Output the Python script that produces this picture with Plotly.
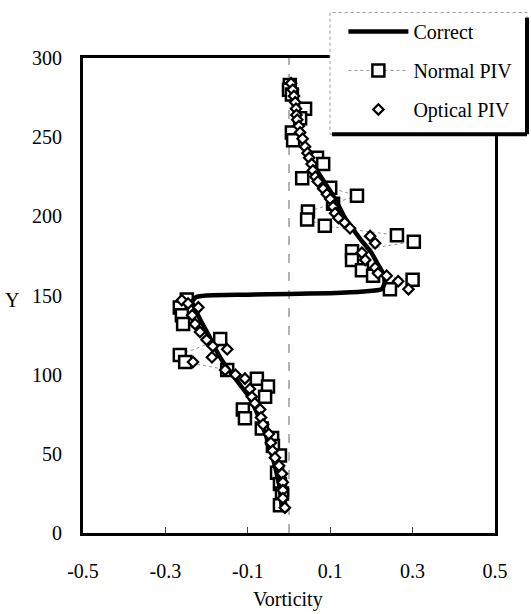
import plotly.graph_objects as go

# Exact (analytic) vorticity profile
correct_x = [0.002, 0.012, 0.028, 0.044, 0.070, 0.100, 0.120, 0.136, 0.155, 0.175,
             0.200, 0.215, 0.228, 0.232, 0.225, 0.180, 0.100, 0.000, -0.100, -0.200,
             -0.225, -0.235, -0.225, -0.214, -0.195, -0.180, -0.160, -0.143, -0.120,
             -0.100, -0.085, -0.070, -0.055, -0.042, -0.032, -0.023, -0.018]
correct_y = [285, 270, 255, 241, 228, 216, 207, 199, 192, 185,
             177, 170, 164, 158, 154, 152.5, 151.5, 151, 150.5, 150,
             149, 146, 140, 134, 125, 117, 108, 102, 94,
             87, 80, 71, 61, 50, 40, 29, 17]

# Standard cross-correlation PIV (upper branch, then lower branch)
normal_x_upper = [0.002, 0.000, 0.007, 0.039, 0.027, 0.007, 0.010, 0.068, 0.083, 0.032,
                  0.100, 0.165, 0.107, 0.046, 0.044, 0.087, 0.262, 0.303, 0.153, 0.153,
                  0.177, 0.204, 0.300, 0.245]
normal_y_upper = [283, 280, 277, 268, 262, 253, 248, 237, 233, 224,
                  218, 213, 208, 203, 198, 194, 188, 184, 178, 172.5,
                  166, 162.5, 160, 154]
normal_x_lower = [-0.248, -0.265, -0.260, -0.257, -0.167, -0.265, -0.252, -0.150, -0.078,
                  -0.051, -0.058, -0.112, -0.107, -0.066, -0.041, -0.039, -0.022, -0.029,
                  -0.022, -0.017, -0.022]
normal_y_lower = [147.5, 142.5, 137.5, 132, 122.5, 112.5, 108, 103, 97.5,
                  92.5, 86, 78, 72.5, 66, 60, 55, 49, 38,
                  31, 25, 17.5]

# Optical-flow PIV
optical_x = [0.005, 0.009, 0.012, 0.015, 0.017, 0.018, 0.020, 0.024, 0.027, 0.033,
             0.039, 0.045, 0.049, 0.055, 0.058, 0.064, 0.070, 0.083, 0.092, 0.100,
             0.107, 0.112, 0.120, 0.135, 0.148, 0.197, 0.209, 0.177, 0.185, 0.209,
             0.216, 0.237, 0.265, 0.290,
             -0.260, -0.245, -0.220, -0.235, -0.228, -0.216, -0.200, -0.185, -0.150,
             -0.187, -0.233, -0.155, -0.130, -0.107, -0.095, -0.090, -0.083, -0.070,
             -0.068, -0.063, -0.049, -0.044, -0.040, -0.034, -0.024, -0.017, -0.015,
             -0.015, -0.015, -0.010]
optical_y = [284, 280, 276, 272, 268, 264, 261, 257, 253, 249,
             244, 240, 237, 233, 229, 225, 222, 217.5, 214, 211,
             206, 202, 199, 196, 192.5, 187.5, 183, 177, 172.5, 167.5,
             164, 162.5, 159, 154,
             147, 145, 142.5, 137.5, 132, 127, 122, 118, 116,
             111, 108, 103, 100, 97.5, 91, 86, 82, 78,
             73, 68.5, 62.5, 57, 52, 47.5, 42.5, 37.5, 32,
             27, 22, 16]

x_ticks = [-0.5, -0.3, -0.1, 0.1, 0.3, 0.5]
x_tick_text = ["-0.5", "-0.3", "-0.1", "0.1", "0.3", "0.5"]
y_ticks = [0, 50, 100, 150, 200, 250, 300]

FONT = "Liberation Serif"

normal_x = normal_x_upper + [None] + normal_x_lower
normal_y = normal_y_upper + [None] + normal_y_lower

fig = go.Figure()

fig.add_trace(go.Scatter(
    x=normal_x, y=normal_y, name="Normal PIV", mode="lines+markers",
    legendgroup="b", legendrank=2,
    line=dict(color="#7a7a7a", width=0.8, dash="dot"),
    marker=dict(symbol="square", size=12, color="white",
                line=dict(color="black", width=2.5)),
))
fig.add_trace(go.Scatter(
    x=correct_x, y=correct_y, name="Correct", mode="lines",
    legendgroup="a", legendrank=1,
    line=dict(color="black", width=4.5, shape="spline", smoothing=0.6),
))
fig.add_trace(go.Scatter(
    x=optical_x, y=optical_y, name="Optical PIV", mode="markers",
    legendgroup="c", legendrank=3,
    marker=dict(symbol="diamond", size=8, color="white",
                line=dict(color="black", width=2.2)),
))

# Zero-vorticity reference line
fig.add_shape(type="line", xref="x", yref="paper", x0=0, x1=0, y0=0, y1=1,
              line=dict(color="#666666", width=1, dash="dash"), layer="below")

# Legend frame with drop shadow
lx0, lx1, ly0, ly1 = 0.5995, 1.0777, 0.8396, 1.0958
fig.add_shape(type="rect", xref="paper", yref="paper", x0=lx0, x1=lx1, y0=ly0, y1=ly1,
              fillcolor="white", line=dict(color="#999999", width=1, dash="dot"),
              layer="above")
fig.add_shape(type="line", xref="paper", yref="paper", x0=lx1, x1=lx1, y0=ly0, y1=1.085,
              line=dict(color="black", width=4), layer="above")
fig.add_shape(type="line", xref="paper", yref="paper", x0=lx0 + 0.005, x1=lx1, y0=ly0, y1=ly0,
              line=dict(color="black", width=4), layer="above")

fig.update_layout(
    width=531, height=614,
    margin=dict(l=83, r=36, t=53, b=81),
    paper_bgcolor="white", plot_bgcolor="white",
    font=dict(family=FONT, size=20, color="black"),
    showlegend=True,
    legend=dict(x=0.632, y=1.097, xanchor="left", yanchor="top",
                bgcolor="rgba(0,0,0,0)", borderwidth=0,
                font=dict(family=FONT, size=20),
                itemwidth=60, tracegroupgap=10),
    xaxis=dict(range=[-0.5, 0.5], tickvals=x_ticks, ticktext=x_tick_text,
               showgrid=False, zeroline=False,
               showline=True, linecolor="black", linewidth=3, mirror=True,
               ticks="inside", ticklen=6, tickwidth=1, tickcolor="#444444",
               ticklabelstandoff=18),
    yaxis=dict(range=[0, 300], tickvals=y_ticks,
               showgrid=False, zeroline=False,
               showline=True, linecolor="black", linewidth=3, mirror=True,
               ticks="", ticklabelstandoff=14),
    annotations=[
        dict(text="Vorticity", xref="paper", yref="paper", x=0.497, y=-0.1396,
             xanchor="center", yanchor="middle", showarrow=False,
             font=dict(family=FONT, size=20)),
        dict(text="Y", xref="paper", yref="paper", x=-0.172, y=0.49,
             xanchor="center", yanchor="middle", showarrow=False,
             font=dict(family=FONT, size=20)),
    ],
)

fig.write_html("out.html")
